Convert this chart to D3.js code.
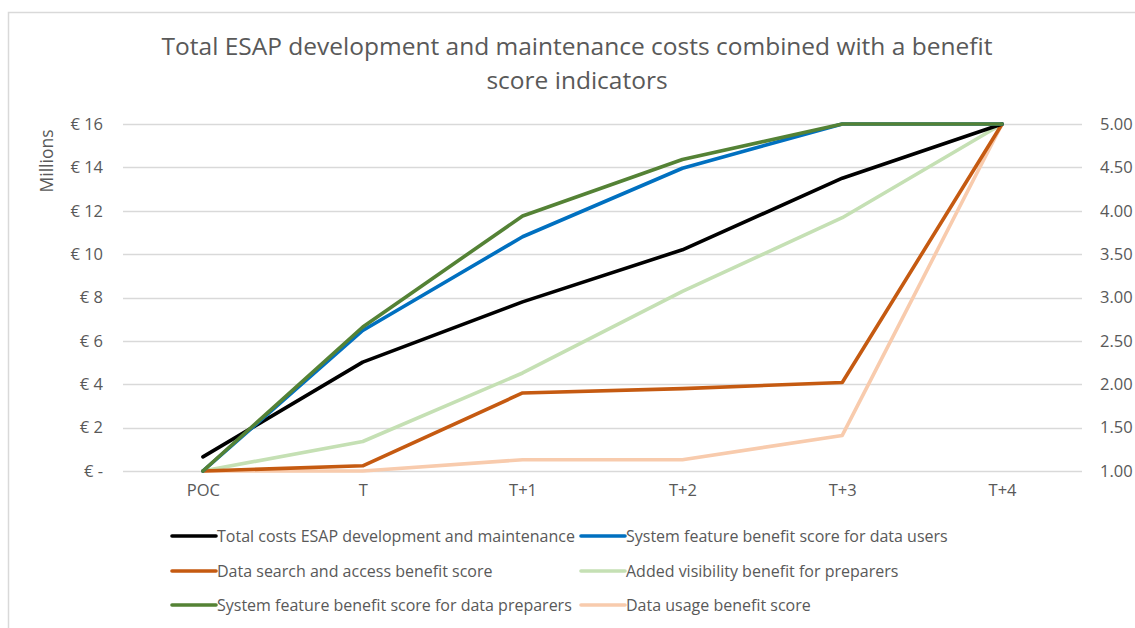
<!DOCTYPE html>
<html>
<head>
<meta charset="utf-8">
<script src="https://cdn.jsdelivr.net/npm/d3@7"></script>
<style>
  body { margin: 0; background: #fff; }
  text { font-family: "Open Sans", sans-serif; fill: #595959; }
</style>
</head>
<body>
<div id="chart"></div>
<script>
// categories and values
const periods = ["POC", "T", "T+1", "T+2", "T+3", "T+4"];
const costTicks = [0, 2, 4, 6, 8, 10, 12, 14, 16];
const scoreTicks = [1, 1.5, 2, 2.5, 3, 3.5, 4, 4.5, 5];

// left axis, millions of euro
const totalCosts = [0.65, 5.02, 7.8, 10.2, 13.5, 16.0];
// right axis, benefit scores
const usersScore = [1.0, 2.62, 3.70, 4.49, 5.0, 5.0];
const searchScore = [1.0, 1.06, 1.90, 1.95, 2.02, 5.0];
const visibilityScore = [1.0, 1.34, 2.13, 3.07, 3.92, 5.0];
const preparersScore = [1.0, 2.66, 3.94, 4.59, 5.0, 5.0];
const usageScore = [1.0, 1.0, 1.13, 1.13, 1.41, 5.0];

const series = [
  { name: "Total costs ESAP development and maintenance", values: totalCosts, color: "#000000", axis: "left" },
  { name: "System feature benefit score for data users", values: usersScore, color: "#0070C0", axis: "right" },
  { name: "Data search and access benefit score", values: searchScore, color: "#C55A11", axis: "right" },
  { name: "Added visibility benefit for preparers", values: visibilityScore, color: "#C5E0B4", axis: "right" },
  { name: "System feature benefit score for data preparers", values: preparersScore, color: "#548235", axis: "right" },
  { name: "Data usage benefit score", values: usageScore, color: "#F8CBAD", axis: "right" }
];
// drawing order (back to front)
const drawOrder = [5, 3, 2, 0, 1, 4];

const W = 1135, H = 628;
const plot = { left: 123, right: 1082, top: 124, bottom: 471 };

const svg = d3.select("#chart").append("svg")
  .attr("width", W).attr("height", H);

// chart area border
svg.append("path")
  .attr("d", `M8.5,${H} V12.5 H${W}`)
  .attr("fill", "none").attr("stroke", "#d9d9d9").attr("stroke-width", 1.5);

// title
const title = svg.append("text")
  .attr("text-anchor", "middle")
  .style("font-size", "24.5px");
title.append("tspan").attr("x", 577).attr("y", 55)
  .text("Total ESAP development and maintenance costs combined with a benefit");
title.append("tspan").attr("x", 577).attr("y", 89).text("score indicators");

const x = d3.scalePoint().domain(periods).range([plot.left, plot.right]).padding(0.5);
const yL = d3.scaleLinear().domain([0, 16]).range([plot.bottom, plot.top]);
const yR = d3.scaleLinear().domain([1, 5]).range([plot.bottom, plot.top]);

// gridlines
svg.append("g").selectAll("line").data(costTicks).join("line")
  .attr("x1", plot.left).attr("x2", plot.right)
  .attr("y1", d => Math.round(yL(d)) + 0.5).attr("y2", d => Math.round(yL(d)) + 0.5)
  .attr("stroke", "#d9d9d9").attr("stroke-width", 1.3);

// left axis
const leftAxis = svg.append("g")
  .attr("transform", `translate(${plot.left},0)`)
  .call(d3.axisLeft(yL).tickValues(costTicks).tickSize(0).tickPadding(20)
    .tickFormat(d => d === 0 ? "€ -" : "€ " + d));
leftAxis.select(".domain").remove();
leftAxis.selectAll("text").style("font-size", "16.5px").attr("fill", "#595959");

// right axis
const rightAxis = svg.append("g")
  .attr("transform", `translate(${plot.right},0)`)
  .call(d3.axisRight(yR).tickValues(scoreTicks).tickSize(0).tickPadding(18)
    .tickFormat(d3.format(".2f")));
rightAxis.select(".domain").remove();
rightAxis.selectAll("text").style("font-size", "16.5px").attr("fill", "#595959");

// bottom axis
const bottomAxis = svg.append("g")
  .attr("transform", `translate(0,${plot.bottom})`)
  .call(d3.axisBottom(x).tickSize(0).tickPadding(13));
bottomAxis.select(".domain").remove();
bottomAxis.selectAll("text").style("font-size", "16.5px").attr("fill", "#595959");

// y title
svg.append("text")
  .attr("transform", "translate(53,161) rotate(-90)")
  .attr("text-anchor", "middle")
  .style("font-size", "17.5px")
  .text("Millions");

// lines
drawOrder.forEach(i => {
  const s = series[i];
  const y = s.axis === "left" ? yL : yR;
  const line = d3.line().x((d, j) => x(periods[j])).y(d => y(d));
  svg.append("path")
    .datum(s.values)
    .attr("d", line)
    .attr("fill", "none")
    .attr("stroke", s.color)
    .attr("stroke-width", 3.6)
    .attr("stroke-linejoin", "round")
    .attr("stroke-linecap", "round");
});

// legend, 2 columns x 3 rows
const legend = svg.append("g");
const colX = [172, 581];
const rowY = [536, 571, 605];
series.forEach((s, i) => {
  const g = legend.append("g")
    .attr("transform", `translate(${colX[i % 2]},${rowY[Math.floor(i / 2)]})`);
  g.append("line").attr("x1", 0).attr("x2", 44).attr("y1", 0).attr("y2", 0)
    .attr("stroke", s.color).attr("stroke-width", 3.6).attr("stroke-linecap", "round");
  g.append("text").attr("x", 45).attr("y", 5.8)
    .style("font-size", "16px")
    .text(s.name);
});
</script>
</body>
</html>
